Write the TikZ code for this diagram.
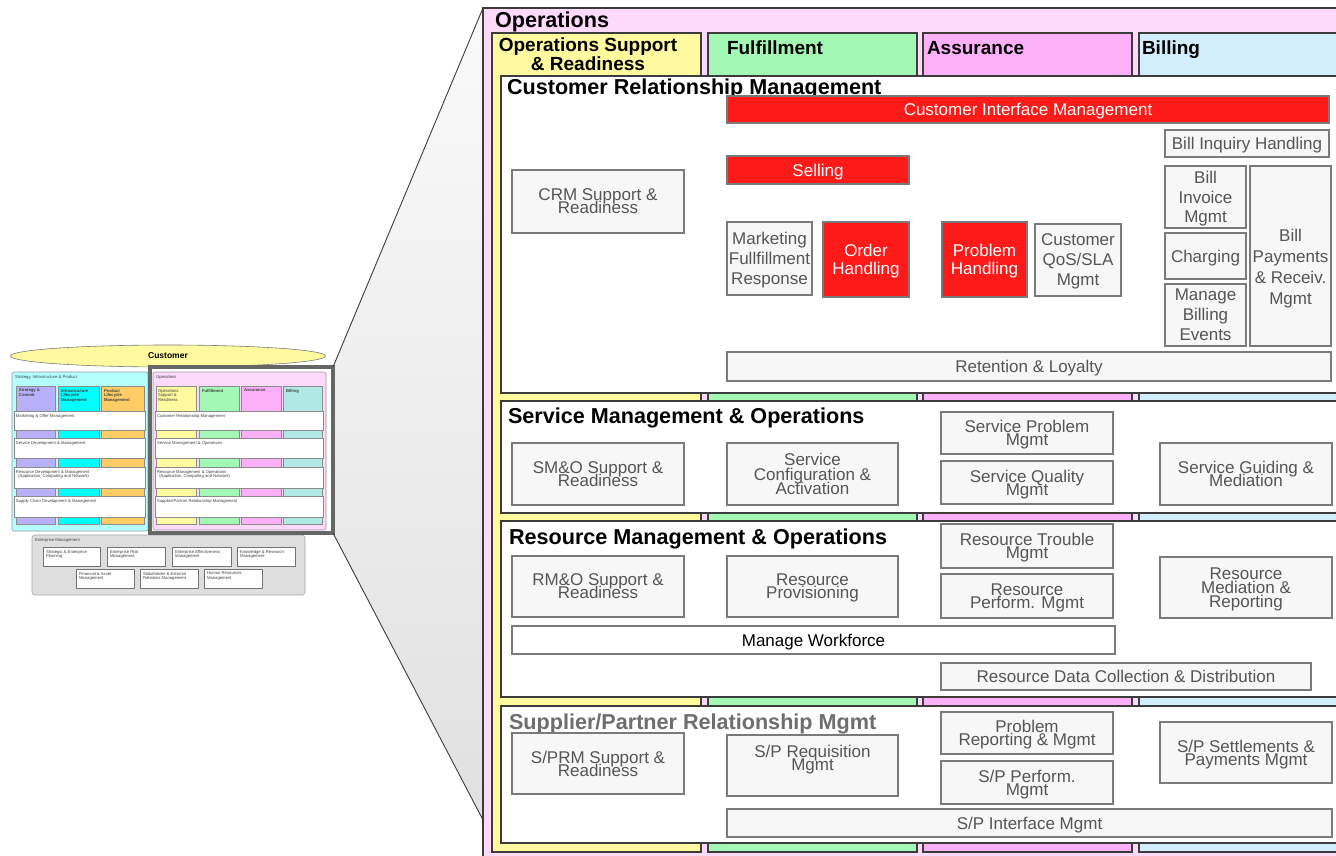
\documentclass[tikz,border=0pt]{standalone}
\usepackage{fontspec}
\setmainfont{Liberation Sans}
\usetikzlibrary{fit,shapes.geometric}

\definecolor{opspink}{RGB}{253,217,250}
\definecolor{osrY}{RGB}{255,249,160}
\definecolor{fulG}{RGB}{163,248,182}
\definecolor{assM}{RGB}{252,176,248}
\definecolor{bilB}{RGB}{210,238,252}
\definecolor{bilT}{RGB}{176,232,228}
\definecolor{cimR}{RGB}{255,26,26}
\definecolor{boxfill}{RGB}{247,247,247}
\definecolor{boxline}{RGB}{122,122,122}
\definecolor{boxtext}{RGB}{85,85,85}
\definecolor{frame}{RGB}{60,60,60}
\definecolor{sipC}{RGB}{180,255,255}
\definecolor{stratP}{RGB}{184,176,248}
\definecolor{infraC}{RGB}{0,255,255}
\definecolor{prodO}{RGB}{255,204,102}
\definecolor{entG}{RGB}{222,222,222}

% \bx[extra]{style}{x1}{y1}{x2}{y2}{name} {text};  -- box spanning two corners
\newcommand{\bx}[7][]{\node[#2,#1,minimum width={#5-#3},minimum height={#6-#4}]
  (#7) at ({(#3+#5)/2},{(#4+#6)/2})}
% size and line pitch of box labels; lines may touch
\newcommand{\boxfont}[2]{\fontsize{#1}{#2}\selectfont\lineskiplimit=-100pt\relax}

\begin{document}
\begin{tikzpicture}[x=1pt,y=-1pt,
  every node/.style={inner sep=0pt, outer sep=0pt},
  col/.style={draw=frame, line width=1.3pt},
  layer/.style={draw=frame, fill=white, line width=1.4pt},
  ibox/.style={draw=boxline, fill=boxfill, line width=1.5pt, align=center,
    text=boxtext, text depth=0pt, font=\boxfont{17}{13}},
  wide/.style={font=\boxfont{17}{20}},
  rbox/.style={ibox, fill=cimR, text=white},
  itext/.style={align=center, text=boxtext, text depth=0pt, font=\boxfont{17}{13}},
  ttl/.style={anchor=west, text depth=0pt, font=\bfseries\fontsize{21.6}{22}\selectfont},
  hdr/.style={anchor=west, text depth=0pt, font=\bfseries\fontsize{19}{16}\selectfont},
  % miniature overview
  scol/.style={draw=black!45, line width=0.5pt},
  slayer/.style={draw=black!45, fill=white, line width=0.6pt},
  stxt/.style={anchor=north west, align=left, text=black!75,
    font=\fontsize{4.2}{4.7}\selectfont},
  sbtxt/.style={stxt, font=\bfseries\fontsize{4.2}{4.7}\selectfont},
  ebox/.style={draw=black!55, fill=white, line width=0.7pt}
]
\useasboundingbox (0,0) rectangle (1336,856);
\begin{scope}
\clip (0,0) rectangle (1336,856);

% ---------- miniature framework ----------
\node[ellipse, draw=boxline, fill=osrY, line width=0.6pt,
  minimum width=315pt, minimum height=22pt,
  font=\bfseries\fontsize{8.5}{9}\selectfont] (cust) at (168,356) {Customer};

% Strategy, Infrastructure & Product
\node[draw=black!40, fill=sipC, rounded corners=2pt, line width=0.6pt,
  fit={(12,372)(148,531)}] (sip) {};
\node[stxt] (siptl) at (15,375) {Strategy, Infrastructure \& Product};
\node[scol, fill=stratP, fit={(16,386)(55,524)}] (sstr) {};
\node[scol, fill=infraC, fit={(58,386)(99,524)}] (sinf) {};
\node[scol, fill=prodO, fit={(101,386)(144,524)}] (sprd) {};
\node[sbtxt] (sstrt) at (19,389) {Strategy \&\\Commit};
\node[sbtxt] (sinft) at (61,389) {Infrastructure\\Lifecycle\\Management};
\node[sbtxt] (sprdt) at (104,389) {Product\\Lifecycle\\Management};
\node[slayer, fit={(14,411)(145,430)}] (smkt) {};
\node[slayer, fit={(14,438)(145,458)}] (ssdm) {};
\node[slayer, fit={(14,467)(145,488)}] (srdm) {};
\node[slayer, fit={(14,496)(145,517)}] (sscd) {};
\node[stxt] at (16,414) {Marketing \& Offer Management};
\node[stxt] at (16,441) {Service Development \& Management};
\node[stxt] at (16,470) {Resource Development \& Management\\\ \ (Application, Computing and Network)};
\node[stxt] at (16,499) {Supply Chain Development \& Management};

% Operations
\node[draw=black!40, fill=opspink, rounded corners=2pt, line width=0.6pt,
  fit={(153,372)(326,530)}] (sops) {};
\node[stxt] (sopstl) at (156,375) {Operations};
\node[scol, fill=osrY, fit={(156,386)(196,524)}] (sosr) {};
\node[scol, fill=fulG, fit={(199,386)(239,524)}] (sful) {};
\node[scol, fill=assM, fit={(241,386)(281,524)}] (sass) {};
\node[scol, fill=bilT, fit={(283,386)(322,524)}] (sbil) {};
\node[stxt] at (158,389) {Operations\\Support \&\\Readiness};
\node[sbtxt] at (202,389) {Fulfillment};
\node[sbtxt] at (244,389) {Assurance};
\node[sbtxt] at (286,389) {Billing};
\node[slayer, fit={(155,411)(323,430)}] (scrm) {};
\node[slayer, fit={(155,438)(323,458)}] (ssmo) {};
\node[slayer, fit={(155,467)(323,488)}] (srmo) {};
\node[slayer, fit={(155,496)(323,517)}] (ssprm) {};
\node[stxt] at (157,414) {Customer Relationship Management};
\node[stxt] at (157,441) {Service Management \& Operations};
\node[stxt] at (157,470) {Resource Management \& Operations\\\ \ (Application, Computing and Network)};
\node[stxt] at (157,499) {Supplier/Partner Relationship Management};

% Enterprise Management
\node[draw=black!35, fill=entG, rounded corners=3pt, line width=0.6pt,
  fit={(32,535)(305,595)}] (ent) {};
\node[stxt] at (35,538) {Enterprise Management};
\node[ebox, fit={(43,547)(100,566)}] (e1) {};
\node[ebox, fit={(107,547)(165,566)}] (e2) {};
\node[ebox, fit={(172,547)(231,566)}] (e3) {};
\node[ebox, fit={(237,547)(295,566)}] (e4) {};
\node[ebox, fit={(76,569)(134,588)}] (e5) {};
\node[ebox, fit={(140,569)(198,588)}] (e6) {};
\node[ebox, fit={(204,569)(262,588)}] (e7) {};
\node[stxt] at (46,550) {Strategic \& Enterprise\\Planning};
\node[stxt] at (110,550) {Enterprise Risk\\Management};
\node[stxt] at (175,550) {Enterprise Effectiveness\\Management};
\node[stxt] at (240,550) {Knowledge \& Research\\Management};
\node[stxt] at (79,572) {Financial \& Asset\\Management};
\node[stxt] at (143,572) {Stakeholder \& External\\Relations Management};
\node[stxt] at (207,572) {Human Resources\\Management};

% ---------- magnifier ----------
\coordinate (zA) at (333,367);
\coordinate (zB) at (483,8);
\coordinate (zC) at (483,820);
\coordinate (zD) at (333,533);
\shade[top color=black!2, bottom color=black!12] (zA) -- (zB) -- (zC) -- (zD) -- cycle;
\node[draw=black!60, line width=3.2pt, fit={(150,367)(333,533)}] (zoomframe) {};

% ---------- Operations ----------
\node[col, fill=opspink, fit={(483,8)(1400,900)}] (ops) {};
\draw[frame, line width=0.9pt] (zoomframe.north east) -- (ops.north west);
\draw[frame, line width=0.9pt] (zoomframe.south east) -- (zC);
\node[ttl] (opsttl) at (495,20) {Operations};

% vertical process groupings
\node[col, fill=osrY, fit={(492,33)(701,852)}] (osr) {};
\node[col, fill=fulG, fit={(708,33)(917,852)}] (ful) {};
\node[col, fill=assM, fit={(923,33)(1132,852)}] (ass) {};
\node[col, fill=bilB, fit={(1139,33)(1400,852)}] (bil) {};
\node[hdr, anchor=center, align=center] (osrt) at (588,54) {Operations Support\\\& Readiness};
\node[hdr] (fult) at (727,48) {Fulfillment};
\node[hdr] (asst) at (927,48) {Assurance};
\node[hdr] (bilt) at (1142,48) {Billing};

% horizontal layers
\node[layer, fit={(501,76)(1400,393)}] (crm) {};
\node[layer, fit={(501,401)(1400,513)}] (smo) {};
\node[layer, fit={(501,521)(1400,697)}] (rmo) {};
\node[layer, fit={(501,706)(1400,843)}] (sprm) {};
\node[ttl] (crmt) at (507,87) {Customer Relationship Management};
\node[ttl] (smot) at (508,416) {Service Management \& Operations};
\node[ttl] (rmot) at (509,537) {Resource Management \& Operations};
\node[ttl, text=black!57] (sprmt) at (509,722) {Supplier/Partner Relationship Mgmt};

% CRM
\bx{rbox}{727}{96}{1329}{123}{cim} {Customer Interface Management};
\bx{rbox}{727}{156}{909}{184}{sell} {Selling};
\bx{ibox}{512}{170}{684}{233}{crmsr} {CRM Support \&\\Readiness};
\bx[wide]{ibox}{727}{222}{812}{295}{mfr} {Marketing\\Fullfillment\\Response};
\bx[font=\boxfont{17}{18}]{rbox}{823}{222}{909}{297}{oh} {Order\\Handling};
\bx[font=\boxfont{17}{18}]{rbox}{942}{222}{1027}{297}{ph} {Problem\\Handling};
\bx[wide]{ibox}{1035}{224}{1121}{296}{qos} {Customer\\QoS/SLA\\Mgmt};
\bx{ibox}{1165}{130}{1329}{157}{bih} {Bill Inquiry Handling};
\bx[font=\boxfont{17}{19.5}]{ibox}{1165}{166}{1246}{228}{bim} {Bill\\Invoice\\Mgmt};
\bx{ibox}{1165}{233}{1246}{279}{chg} {Charging};
\bx[font=\boxfont{17}{20}]{ibox}{1165}{284}{1246}{346}{mbe} {Manage\\Billing\\Events};
\bx{ibox}{1250}{166}{1331}{346}{bpr} {};
\node[itext, font=\boxfont{17}{21}] (bprt) at ([yshift=-11pt]bpr.center) {Bill\\Payments\\\& Receiv.\\Mgmt};
\bx{ibox}{727}{352}{1331}{381}{rl} {Retention \& Loyalty};

% SM&O
\bx{ibox}{512}{443}{684}{505}{smosr} {SM\&O Support \&\\Readiness};
\bx[font=\boxfont{17}{14.5}]{ibox}{727}{443}{898}{505}{sca} {Service\\Configuration \&\\Activation};
\bx{ibox}{941}{412}{1113}{454}{spm} {Service Problem\\Mgmt};
\bx{ibox}{941}{461}{1113}{504}{sqm} {Service Quality\\Mgmt};
\bx{ibox}{1160}{443}{1332}{505}{sgm} {Service Guiding \&\\Mediation};

% RM&O
\bx{ibox}{512}{556}{684}{617}{rmosr} {RM\&O Support \&\\Readiness};
\bx{ibox}{727}{556}{898}{617}{rprov} {Resource\\Provisioning};
\bx{ibox}{941}{524}{1113}{568}{rtm} {Resource Trouble\\Mgmt};
\bx{ibox}{941}{574}{1113}{618}{rpm} {Resource\\Perform. Mgmt};
\bx[font=\boxfont{17}{14}]{ibox}{1160}{557}{1332}{618}{rmr} {Resource\\Mediation \&\\Reporting};
\bx[fill=white, text=black]{ibox}{512}{626}{1115}{654}{mwf} {Manage Workforce};
\bx{ibox}{941}{663}{1311}{690}{rdcd} {Resource Data Collection \& Distribution};

% S/PRM
\bx{ibox}{512}{733}{684}{794}{sprmsr} {S/PRM Support \&\\Readiness};
\bx{ibox}{727}{735}{898}{796}{sprq} {};
\node[itext] (sprqt) at ([yshift=8pt]sprq.center) {S/P Requisition\\Mgmt};
\bx{ibox}{941}{712}{1113}{754}{prm} {Problem\\Reporting \& Mgmt};
\bx{ibox}{941}{761}{1113}{804}{spp} {S/P Perform.\\Mgmt};
\bx{ibox}{1160}{722}{1332}{783}{spsp} {S/P Settlements \&\\Payments Mgmt};
\bx{ibox}{727}{809}{1332}{837}{spim} {S/P Interface Mgmt};
\end{scope}
\end{tikzpicture}
\end{document}
